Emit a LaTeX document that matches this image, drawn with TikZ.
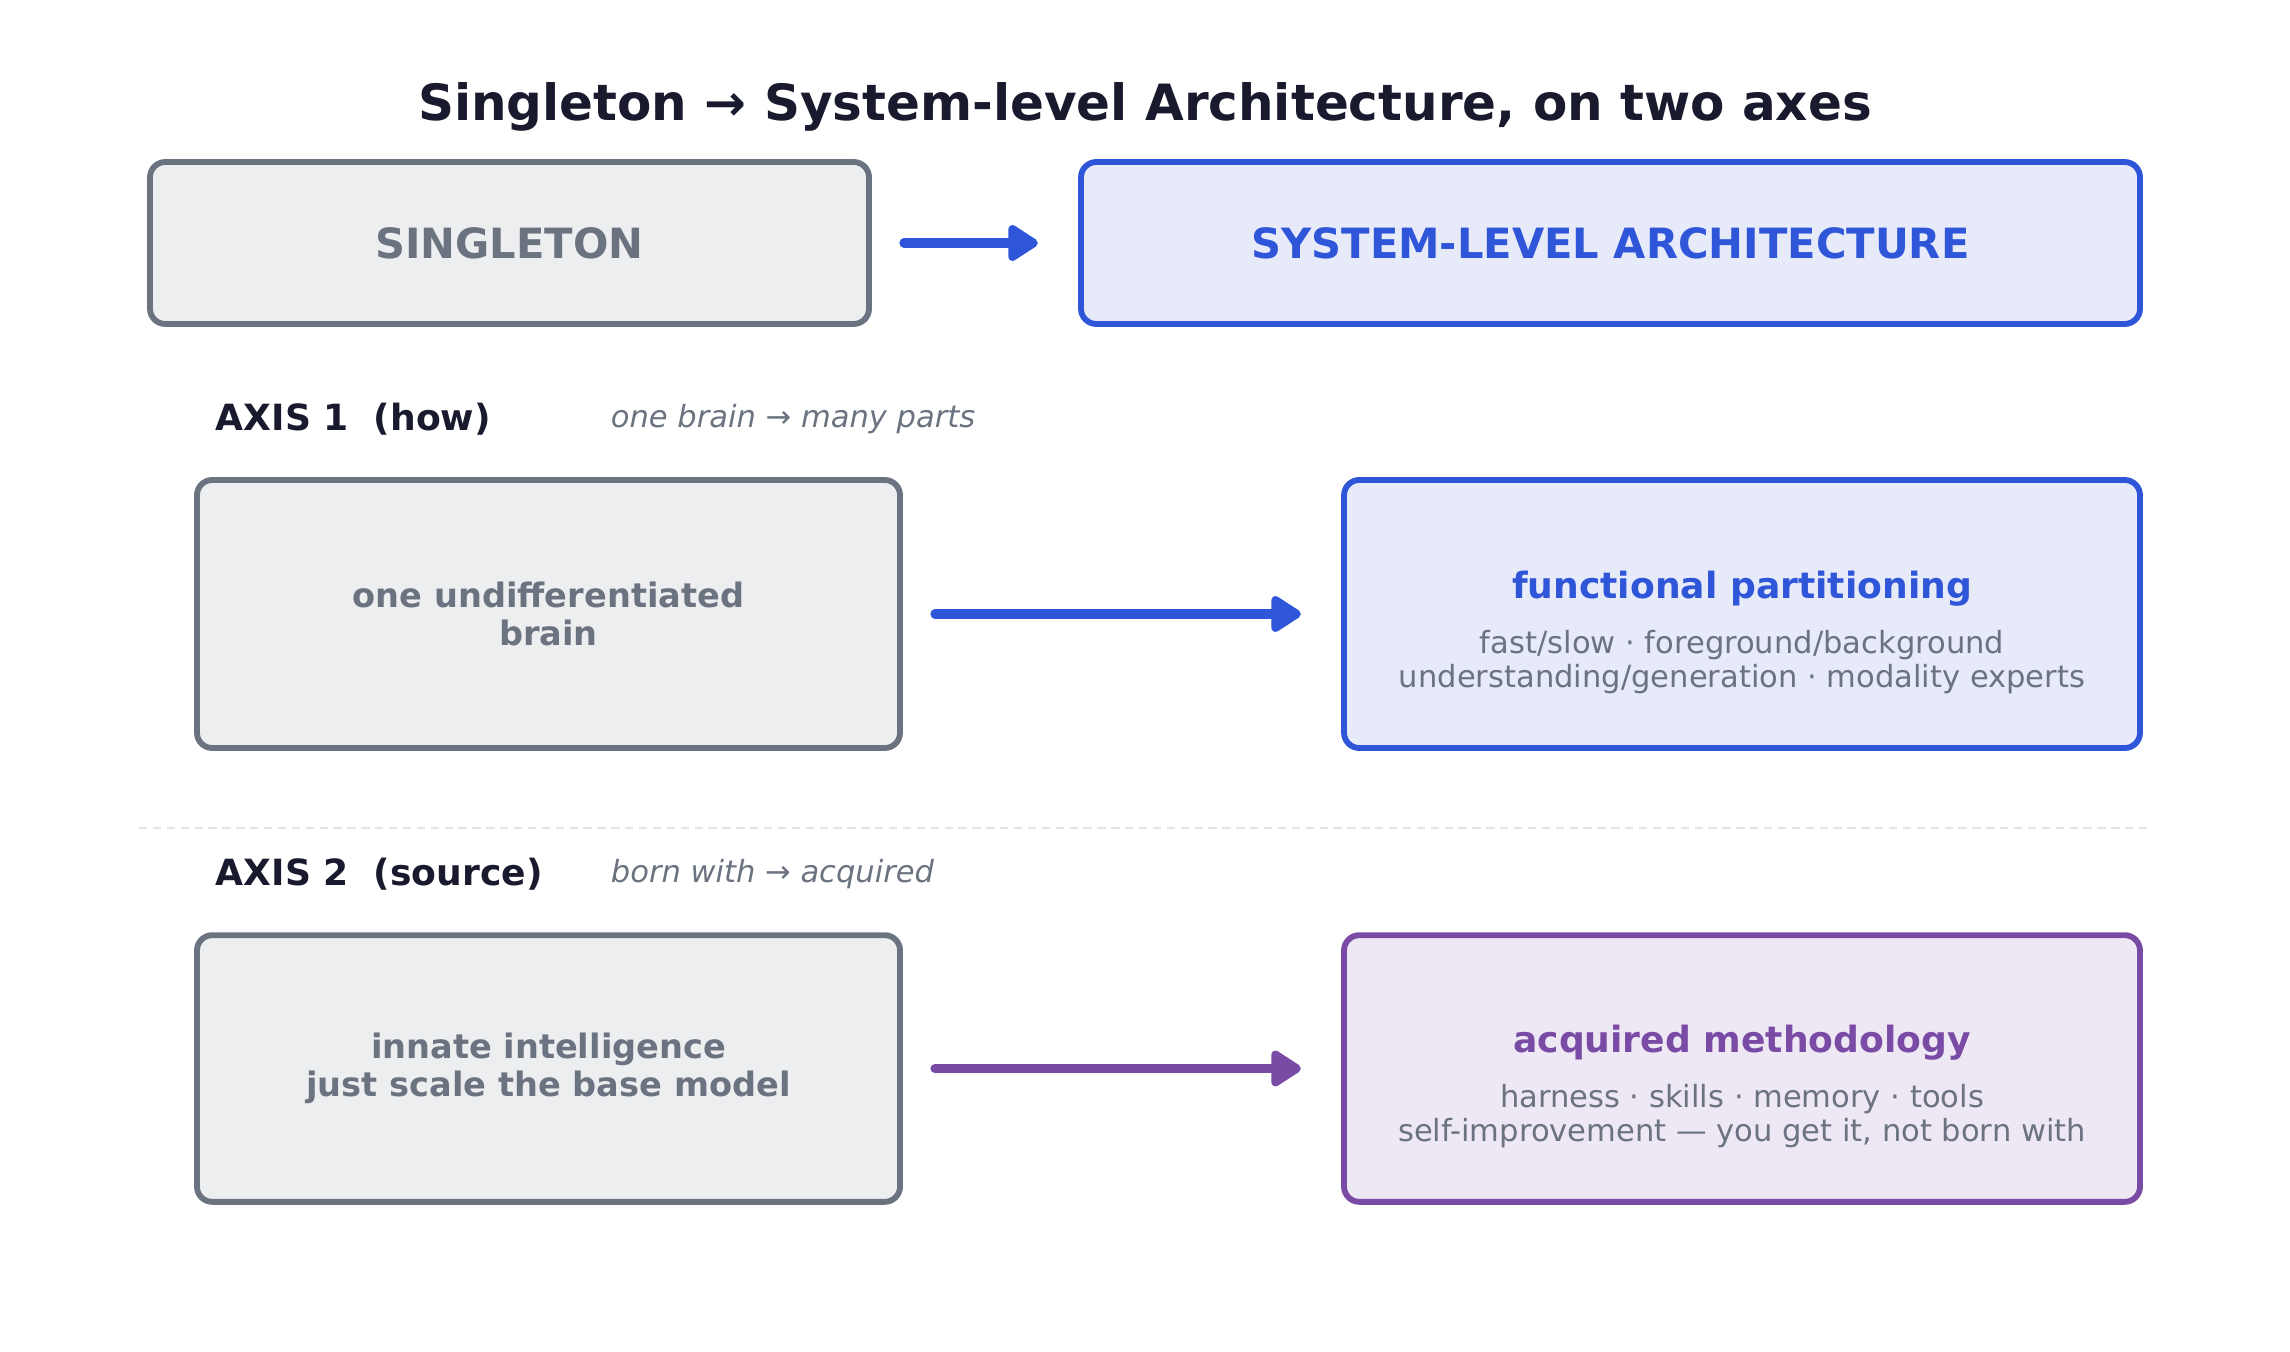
\documentclass[tikz,border=0pt]{standalone}
\usepackage{fontspec}
\setmainfont{DejaVu Sans}
\usetikzlibrary{arrows.meta}

\definecolor{inkdark}{HTML}{1A1A2E}
\definecolor{inkgray}{HTML}{6B7280}
\definecolor{fillgray}{HTML}{EDEEF0}
\definecolor{sysblue}{HTML}{2F55D9}
\definecolor{fillblue}{HTML}{E6EAF9}
\definecolor{acqpurple}{HTML}{7A4BA5}
\definecolor{fillpurple}{HTML}{EEE8F5}
\definecolor{seprule}{HTML}{E2E4E8}

\tikzset{
  basebox/.style={rounded corners=11pt, line width=4.2pt, inner sep=0pt},
  oldbox/.style={basebox, draw=inkgray, fill=fillgray},
  newbox/.style={basebox, draw=sysblue, fill=fillblue},
  acqbox/.style={basebox, draw=acqpurple, fill=fillpurple},
  shiftarrow/.style={line width=6.5pt, line cap=round, shorten <=23pt, shorten >=29pt,
    -{Triangle[length=24pt, width=29pt, round]}},
}

\begin{document}
\begin{tikzpicture}[x=0.72pt, y=-0.72pt]
  \useasboundingbox (0,0) rectangle (2290,1352);

  % Title
  \node[text=inkdark, font=\fontsize{36}{42}\selectfont\bfseries] (title) at (1145,107)
    {Singleton → System-level Architecture, on two axes};

  % Top row
  \node[oldbox, minimum width=517.7pt, minimum height=116.6pt, text=inkgray,
    font=\fontsize{30}{36}\selectfont\bfseries] (single) at (509.5,243) {SINGLETON};
  \node[newbox, minimum width=762.5pt, minimum height=116.6pt, text=sysblue,
    font=\fontsize{30}{36}\selectfont\bfseries] (syslevel) at (1610.5,243) {SYSTEM-LEVEL ARCHITECTURE};
  \draw[shiftarrow, sysblue] (single) -- (syslevel);

  % Axis 1
  \node[anchor=west, text=inkdark, font=\fontsize{26}{30}\selectfont\bfseries] (axisA) at (211,419)
    {AXIS 1\ \ (how)};
  \node[anchor=west, text=inkgray, font=\fontsize{22}{26}\selectfont\itshape] (axisAnote) at (606,419)
    {one brain → many parts};
  \node[oldbox, minimum width=506.2pt, minimum height=193pt, text=inkgray, align=center,
    font=\fontsize{24.2}{27.8}\selectfont\bfseries] (brain) at (548.5,614)
    {one undifferentiated\\brain};
  \node[newbox, minimum width=573.1pt, minimum height=193pt] (func) at (1742,614) {};
  \node[text=sysblue, font=\fontsize{26}{30}\selectfont\bfseries] (funchead) at (1742,589)
    {functional partitioning};
  \node[text=inkgray, align=center, font=\fontsize{22}{25}\selectfont] (funcsub) at (1742,662)
    {fast/slow · foreground/background\\understanding/generation · modality experts};
  \draw[shiftarrow, sysblue] (brain) -- (func);

  % Separator
  \coordinate (sepL) at (139,828);
  \coordinate (sepR) at (2150,828);
  \draw[seprule, line width=2pt, dash pattern=on 6pt off 4pt] (sepL) -- (sepR);

  % Axis 2
  \node[anchor=west, text=inkdark, font=\fontsize{26}{30}\selectfont\bfseries] (axisB) at (211,874)
    {AXIS 2\ \ (source)};
  \node[anchor=west, text=inkgray, font=\fontsize{22}{26}\selectfont\itshape] (axisBnote) at (606,874)
    {born with → acquired};
  \node[oldbox, minimum width=506.2pt, minimum height=192pt, text=inkgray, align=center,
    font=\fontsize{24.2}{27.8}\selectfont\bfseries] (innate) at (548.5,1068.5)
    {innate intelligence\\just scale the base model};
  \node[acqbox, minimum width=573.1pt, minimum height=192pt] (acq) at (1742,1068.5) {};
  \node[text=acqpurple, font=\fontsize{26}{30}\selectfont\bfseries] (acqhead) at (1742,1043)
    {acquired methodology};
  \node[text=inkgray, align=center, font=\fontsize{22}{25}\selectfont] (acqsub) at (1742,1116)
    {harness · skills · memory · tools\\self-improvement — you get it, not born with};
  \draw[shiftarrow, acqpurple] (innate) -- (acq);
\end{tikzpicture}
\end{document}
